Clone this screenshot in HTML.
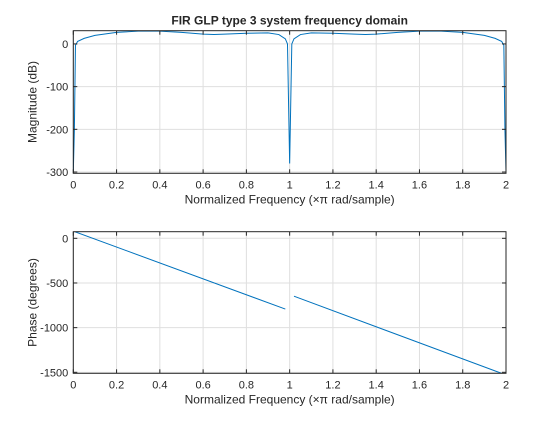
<!DOCTYPE html>
<html><head><meta charset="utf-8"><style>
body{margin:0;background:#fff;}
svg text{font-family:"Liberation Sans",Arial,sans-serif;fill:#262626;}
</style></head><body>
<svg id="chart" width="560" height="420" viewBox="0 0 560 420" xmlns="http://www.w3.org/2000/svg">
<rect width="560" height="420" fill="#fff"/>
</svg>
<script>
const magFreq = [0,0.005,0.01,0.02,0.05,0.1,0.2,0.3,0.4,0.5,0.6,0.65,0.7,0.8,0.9,0.95,0.98,0.99,1.0,1.01,1.02,1.05,1.1,1.2,1.3,1.35,1.4,1.5,1.6,1.7,1.8,1.9,1.95,1.98,1.99,1.995,2.0];
const magDb   = [-300,-200,-3,6,13,20,27,30,30,27,23,22,23,25,26,22,12,0,-280,0,12,22,26,25,23,22,23,27,30,30,27,20,13,6,-3,-200,-300];
const phaseFreq = [0,0.98,null,1.02,1.98];
const phaseDeg  = [80,-792,null,-648,-1512];
const xTicks = [0,0.2,0.4,0.6,0.8,1,1.2,1.4,1.6,1.8,2];
const magTicks = [0,-100,-200,-300];
const phaseTicks = [0,-500,-1000,-1500];

const svg = document.getElementById('chart');
const NS = 'http://www.w3.org/2000/svg';
function mk(tag, attrs, parent){const e=document.createElementNS(NS,tag);for(const k in attrs)e.setAttribute(k,attrs[k]);(parent||svg).appendChild(e);return e;}

function panel(name, box, ymin, ymax, yticks, xs, ys, ylabel, title){
  const g = mk('g',{});
  
  
  const X = v => box.x0 + (v-0)/(2-0)*(box.x1-box.x0);
  const Y = v => box.y1 - (v-ymin)/(ymax-ymin)*(box.y1-box.y0);
  mk('rect',{x:box.x0,y:box.y0,width:box.x1-box.x0,height:box.y1-box.y0,fill:'#fff'},g);
  const grid = mk('g',{stroke:'#dfdfdf','stroke-width':1},g);
  
  
  xTicks.forEach(t=>{mk('line',{x1:X(t),x2:X(t),y1:box.y0,y2:box.y1},grid);});
  yticks.forEach(t=>{mk('line',{x1:box.x0,x2:box.x1,y1:Y(t),y2:Y(t)},grid);});
  // line
  const clip = mk('clipPath',{id:name+'-clip'},g);
  mk('rect',{x:box.x0,y:box.y0,width:box.x1-box.x0,height:box.y1-box.y0},clip);
  let d='', pen=false;
  for(let i=0;i<xs.length;i++){
    if(xs[i]===null){pen=false;continue;}
    d += (pen?'L':'M')+X(xs[i]).toFixed(2)+','+Y(ys[i]).toFixed(2);
    pen=true;
  }
  const p = mk('path',{d:d,fill:'none',stroke:'#0072BD','stroke-width':1,'clip-path':'url(#'+name+'-clip)'},g);
  
  
  // box
  mk('rect',{x:box.x0,y:box.y0,width:box.x1-box.x0,height:box.y1-box.y0,fill:'none',stroke:'#262626','stroke-width':1},g);
  const tk = mk('g',{stroke:'#262626','stroke-width':1},g);
  xTicks.forEach(t=>{
    mk('line',{x1:X(t),x2:X(t),y1:box.y1,y2:box.y1-4},tk);
    mk('line',{x1:X(t),x2:X(t),y1:box.y0,y2:box.y0+4},tk);
    const tx = mk('text',{x:X(t),y:box.y1+15,'font-size':11,'text-anchor':'middle'},g);
    
    
    tx.textContent = String(t);
  });
  yticks.forEach(t=>{
    mk('line',{x1:box.x0,x2:box.x0+4,y1:Y(t),y2:Y(t)},tk);
    mk('line',{x1:box.x1,x2:box.x1-4,y1:Y(t),y2:Y(t)},tk);
    const ty = mk('text',{x:box.x0-5,y:Y(t)+4,'font-size':11,'text-anchor':'end'},g);
    
    
    ty.textContent = String(t);
  });
  const xl = mk('text',{x:(box.x0+box.x1)/2,y:box.y1+30,'font-size':12,'text-anchor':'middle'},g);
  
  
  xl.textContent = 'Normalized Frequency  (\u00d7\u03c0 rad/sample)';
  const yl = mk('text',{x:0,y:0,'font-size':12,'text-anchor':'middle',transform:'translate('+(box.x0-37)+','+((box.y0+box.y1)/2)+') rotate(-90)'},g);
  
  
  yl.textContent = ylabel;
  if(title){
    const tt = mk('text',{x:(box.x0+box.x1)/2,y:box.y0-6,'font-size':12,'font-weight':'bold','text-anchor':'middle'},g);
    
    
    tt.textContent = title;
  }
}
panel('magnitude-plot',{x0:73.3,x1:506,y0:30.7,y1:173.3},-303,31,magTicks,magFreq,magDb,'Magnitude (dB)','FIR GLP type 3 system frequency domain');
panel('phase-plot',{x0:73.3,x1:506,y0:231.7,y1:373.3},-1511,74,phaseTicks,phaseFreq,phaseDeg,'Phase (degrees)',null);
</script>
</body></html>
